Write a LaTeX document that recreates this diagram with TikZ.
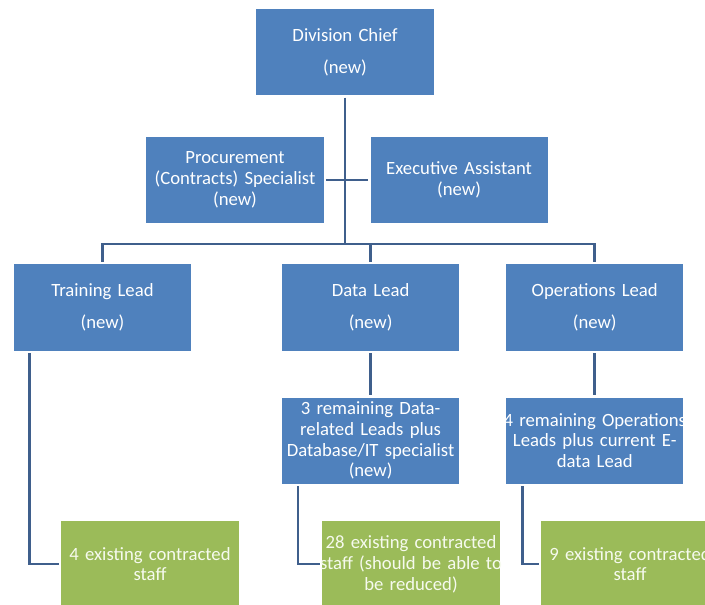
\documentclass[tikz,border=0pt]{standalone}
\usepackage{fontspec}
\setmainfont{Carlito}
\usepackage{xcolor}
\usetikzlibrary{positioning}
\definecolor{boxblue}{HTML}{4F81BD}
\definecolor{staffgreen}{HTML}{9BBB59}
\definecolor{stafftext}{HTML}{F6FAEE}
\definecolor{lineblue}{HTML}{3F5F8C}

\begin{document}
\begin{tikzpicture}[x=0.025cm,y=-0.025cm,node distance=1.05cm and 1.05cm,
  box/.style={rectangle,fill=boxblue,text=white,minimum width=4.425cm,minimum height=2.15cm,text width=4.425cm,inner sep=0pt,outer sep=1.8pt,align=center,font=\fontsize{13.3}{14.8}\selectfont},
  staff/.style={box,fill=staffgreen,text=stafftext},
  conn/.style={draw=lineblue,line width=2pt}]
\useasboundingbox (0,0) rectangle (705,605);
\clip (0,0) rectangle (705,605);
\node[box] (chief) at (345,52) {Division Chief\\[8pt](new)};
\node[box] (proc) at (235,180) {Procurement\\(Contracts) Specialist\\(new)};
\node[box,right=of proc] (exec) {Executive Assistant\\(new)};
%%%%%%%%%%%%%%%%%%%%%%%%%%%%%%%%%%%%%
\node[box] (train) at (102.5,307.5) {Training Lead\\[8pt](new)};
\node[box,right=2.15cm of train] (datal) {Data Lead\\[8pt](new)};
\node[box,right=of datal] (opsl) {Operations Lead\\[8pt](new)};
\node[box,below=of datal] (datarem) {3 remaining Data-\\related Leads plus\\\makebox[\linewidth]{Database/IT specialist}\\(new)};
\node[box,below=of opsl] (opsrem) {\makebox[\linewidth]{4 remaining Operations}\\Leads plus current E-\\data Lead};
%%%%%%%%%%%%%%%%%%%%%%%%%%%%%%%%%%%%%
\node[staff] (trainstaff) at (150,564) {4 existing contracted\\staff};
\node[staff] (datastaff) at (411,564) {\makebox[\linewidth]{28 existing contracted}\\\makebox[\linewidth]{staff (should be able to}\\be reduced)};
\node[staff] (opsstaff) at (630,564) {\makebox[\linewidth]{9 existing contracted}\\staff};
\coordinate (bar) at (345,244);

\draw[conn] (chief.south) -- (chief.south |- bar);
\draw[conn] (proc.east) -- (exec.west);
\draw[conn] (train.north) |- (opsl.north |- bar) -- (opsl.north);
\draw[conn] (datal.north |- bar) -- (datal.north);
\draw[conn] (datal) -- (datarem);
\draw[conn] (opsl) -- (opsrem);
%%%%%%%%%%
\draw[conn] ([xshift=0.46cm]train.south west) |- (trainstaff.west);
\draw[conn] ([xshift=0.46cm]datarem.south west) |- (datastaff.west);
\draw[conn] ([xshift=0.46cm]opsrem.south west) |- (opsstaff.west);
\end{tikzpicture}
\end{document}
